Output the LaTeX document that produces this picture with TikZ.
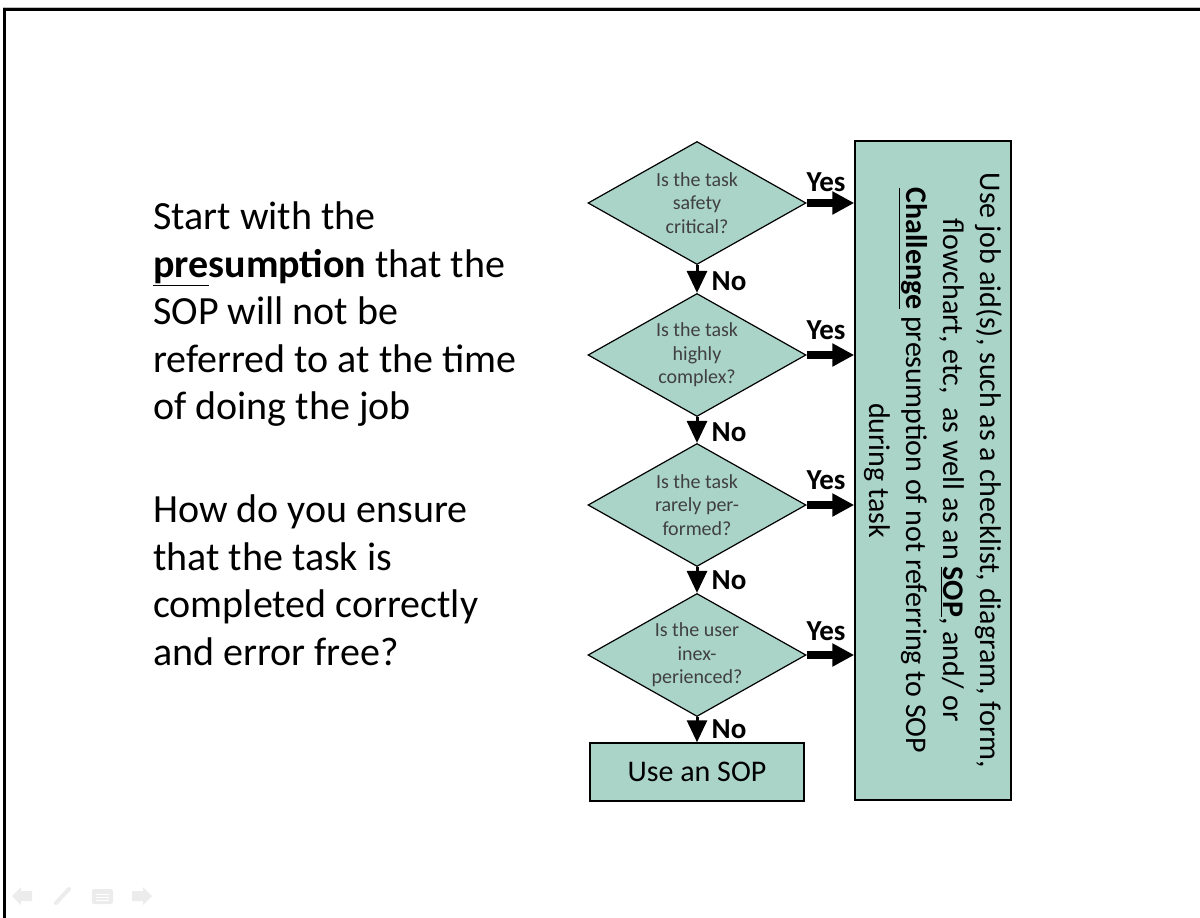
\documentclass[tikz,border=0pt]{standalone}
\usepackage{fontspec}
\setmainfont{Carlito}
\usetikzlibrary{shapes.geometric,arrows.meta}
\definecolor{sopteal}{RGB}{170,212,200}
\definecolor{asktext}{RGB}{64,64,64}
\definecolor{navgray}{RGB}{236,236,236}

\begin{document}
\begin{tikzpicture}[x=1pt,y=-1pt,
    question/.style={diamond,draw,line width=1.2pt,fill=sopteal,aspect=1.8,
        minimum width=218pt,minimum height=123pt,inner sep=0pt,align=center,
        text=asktext,font=\fontsize{20}{23.5}\selectfont},
    outcome/.style={rectangle,draw,line width=1.5pt,fill=sopteal,align=center,
        font=\fontsize{30}{37}\selectfont},
    noarrow/.style={line width=3pt,-{Triangle[width=20pt,length=22pt]}},
    yesarrow/.style={line width=8pt,-{Triangle[width=22pt,length=22pt]}},
    answer/.style={font=\bfseries\fontsize{29}{29}\selectfont},
    prose/.style={anchor=north west,inner sep=0pt,align=left,
        font=\fontsize{40}{47.5}\selectfont}]
    \useasboundingbox (0,0) rectangle (1200,918);

    % Coordinates
    \coordinate (Q1) at (697,203);
    \coordinate (Q2) at (697,355);
    \coordinate (Q3) at (697,505);
    \coordinate (Q4) at (697,655);
    \coordinate (S) at (697,772);
    \coordinate (J) at (933,470.5);

    % Frame
    \draw[gray!50,line width=1pt] (3,7) -- (1200,7);
    \draw[line width=3pt] (4,918) -- (4,9.5) -- (1200,9.5);

    % Left text
    \node[prose] (intro) at (153,202) {Start with the\\
        \underline{\textbf{pre}}\textbf{sumption} that the\\
        SOP will not be\\
        referred to at the time\\
        of doing the job};
    \node[prose] (ask) at (153,495) {How do you ensure\\
        that the task is\\
        completed correctly\\
        and error free?};

    % Questions
    \node[question] (q1) at (Q1) {Is the task\\ safety\\ critical?};
    \node[question] (q2) at (Q2) {Is the task\\ highly\\ complex?};
    \node[question] (q3) at (Q3) {Is the task\\ rarely per-\\ formed?};
    \node[question] (q4) at (Q4) {Is the user\\ inex-\\ perienced?};

    % Outcomes
    \node[outcome,minimum width=214pt,minimum height=58pt] (sop) at (S) {Use an SOP};
    \node[outcome,rotate=-90,minimum width=659pt,minimum height=156pt,inner sep=0pt] (aid) at (J)
        {Use job aid(s), such as a checklist, diagram, form,\\
         flowchart, etc,\ \ as well as an \underline{\textbf{SOP}}, and/ or\\
         \underline{\textbf{Challenge}} presumption of not referring to SOP\\
         during task};

    % No arrows
    \draw[noarrow] (q1.south) -- (q2.north);
    \draw[noarrow] (q2.south) -- (q3.north);
    \draw[noarrow] (q3.south) -- (q4.north);
    \draw[noarrow] (q4.south) -- (sop.north);

    % Yes arrows
    \draw[yesarrow] (q1.east) -- (q1.east -| aid.south);
    \draw[yesarrow] (q2.east) -- (q2.east -| aid.south);
    \draw[yesarrow] (q3.east) -- (q3.east -| aid.south);
    \draw[yesarrow] (q4.east) -- (q4.east -| aid.south);

    % Labels
    \node[answer] (no1) at (729,281) {No};
    \node[answer] (no2) at (729,432) {No};
    \node[answer] (no3) at (729,580) {No};
    \node[answer] (no4) at (729,729) {No};
    \node[answer] (yes1) at (826,182) {Yes};
    \node[answer] (yes2) at (826,330) {Yes};
    \node[answer] (yes3) at (826,480) {Yes};
    \node[answer] (yes4) at (826,631) {Yes};

    % Slide navigation
    \fill[navgray] (12,896) -- (21,887) -- (21,891) -- (32,891) -- (32,901) -- (21,901) -- (21,905) -- cycle;
    \draw[navgray,line width=4pt,line cap=round] (56,903) -- (69,889);
    \fill[navgray,rounded corners=2pt] (92,889) rectangle (113,904);
    \draw[white,line width=1pt] (96,894) -- (109,894) (96,897) -- (109,897) (96,900) -- (109,900);
    \fill[navgray] (152,896) -- (143,887) -- (143,891) -- (132,891) -- (132,901) -- (143,901) -- (143,905) -- cycle;
\end{tikzpicture}
\end{document}
